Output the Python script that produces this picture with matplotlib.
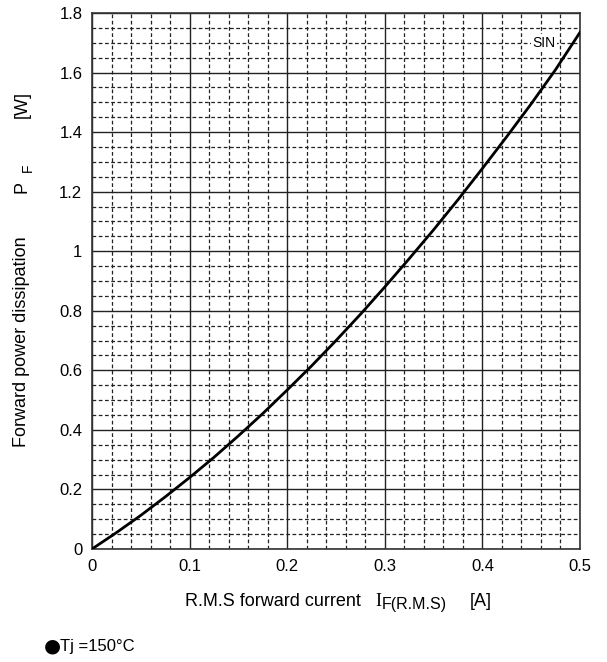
import numpy as np
import matplotlib.pyplot as plt
from matplotlib.ticker import MultipleLocator

plt.rcParams['font.family'] = ['Liberation Sans', 'DejaVu Sans']

# RMS forward current [A] and forward power dissipation [W]
current = [0, 0.025, 0.05, 0.075, 0.1, 0.125, 0.15, 0.175, 0.2, 0.225, 0.25,
           0.275, 0.3, 0.325, 0.35, 0.375, 0.4, 0.425, 0.45, 0.475, 0.5]
power = [0, 0.055, 0.113, 0.175, 0.240, 0.308, 0.380, 0.455, 0.534, 0.615, 0.700,
         0.788, 0.880, 0.975, 1.072, 1.173, 1.278, 1.385, 1.495, 1.610, 1.735]

xticks = [0, 0.1, 0.2, 0.3, 0.4, 0.5]
xticklabels = ['0', '0.1', '0.2', '0.3', '0.4', '0.5']
yticks = [0, 0.2, 0.4, 0.6, 0.8, 1.0, 1.2, 1.4, 1.6, 1.8]
yticklabels = ['0', '0.2', '0.4', '0.6', '0.8', '1', '1.2', '1.4', '1.6', '1.8']

W, H = 607, 662
fig = plt.figure(figsize=(W / 100, H / 100), dpi=100)
ax = fig.add_axes([92 / W, 1 - 549 / H, (580 - 92) / W, (549 - 13) / H])

ax.plot(current, power, color='black', lw=2.0, zorder=3)

ax.set_xlim(0, 0.5)
ax.set_ylim(0, 1.8)
ax.set_xticks(xticks)
ax.set_xticklabels(xticklabels)
ax.set_yticks(yticks)
ax.set_yticklabels(yticklabels)
ax.xaxis.set_minor_locator(MultipleLocator(0.02))
ax.yaxis.set_minor_locator(MultipleLocator(0.05))
ax.tick_params(which='both', length=0, labelsize=12, pad=7)

ax.grid(which='major', color='#222222', lw=1.0, ls='-')
ax.grid(which='minor', color='#222222', lw=0.9, ls=(0, (3, 2)))
ax.set_axisbelow(True)
for s in ax.spines.values():
    s.set_color('#333333')
    s.set_linewidth(1.2)

ax.text(0.463, 1.70, 'SIN', fontsize=10, ha='center', va='center',
        bbox=dict(facecolor='white', edgecolor='none', pad=1), zorder=2)


def px(x, y):
    return x / W, 1 - y / H


# x axis label, built from pieces so the subscript keeps its tight spacing
fig.text(*px(185, 601), 'R.M.S forward current', fontsize=13, ha='left', va='center')
fig.text(*px(375, 601), 'I', fontsize=13, ha='left', va='center', family='Liberation Serif')
fig.text(*px(382, 605), 'F(R.M.S)', fontsize=11.5, ha='left', va='center')
fig.text(*px(470, 601), '[A]', fontsize=13, ha='left', va='center')

# y axis label
fig.text(*px(22, 447), 'Forward power dissipation', fontsize=13, ha='center', va='bottom',
         rotation=90)
fig.text(*px(22, 193), 'P', fontsize=13, ha='center', va='bottom', rotation=90)
fig.text(*px(28, 172), 'F', fontsize=10, ha='center', va='bottom', rotation=90)
fig.text(*px(22, 118), '[W]', fontsize=13, ha='center', va='bottom', rotation=90)

fig.text(*px(44, 646), '\u25cf', fontsize=14, ha='left', va='center', family='DejaVu Sans')
fig.text(*px(60, 647), 'Tj =150\u00b0C', fontsize=12, ha='left', va='center')

fig.savefig('out.png', dpi=100)
